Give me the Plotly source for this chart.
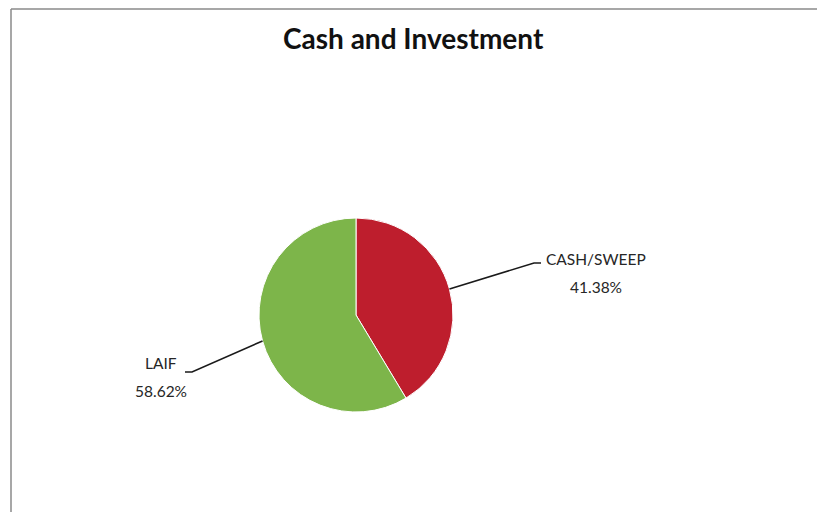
import math
import plotly.graph_objects as go

# ---- data ----
labels = ["CASH/SWEEP", "LAIF"]
values = [41.38, 58.62]
colors = ["#BE1E2D", "#7DB54A"]
title_text = "Cash and Investment"

# ---- layout geometry (pixels, in screenshot coordinates) ----
OFF = 8  # page body margin
W, H = 825 - 2 * OFF, 520 - 2 * OFF  # fit inside the window without scrollbars
cx, cy, r = 356, 315, 97


def px(x):
    return (x - OFF) / W


def py(y):
    return 1 - (y - OFF) / H


fig = go.Figure(go.Pie(
    labels=labels, values=values, sort=False, direction="clockwise", rotation=0,
    marker=dict(colors=colors, line=dict(color="white", width=1)),
    textinfo="none", hoverinfo="label+percent", showlegend=False,
    domain=dict(x=[px(cx - r), px(cx + r)], y=[py(cy + r), py(cy - r)]),
))

# label placement (pixel) for each slice: elbow point, horizontal end, text center
label_pos = {
    "CASH/SWEEP": dict(elbow=(534, 263), end=(541, 263), tx=596, ty1=259, ty2=287),
    "LAIF": dict(elbow=(192, 372), end=(185, 372), tx=161, ty1=363, ty2=391),
}

total = sum(values)
shapes = []
annotations = []
cum = 0.0
for lab, val in zip(labels, values):
    mid = (cum + val / 2) / total * 2 * math.pi  # clockwise from 12 o'clock
    cum += val
    ex = cx + r * math.sin(mid)
    ey = cy - r * math.cos(mid)
    p = label_pos[lab]
    shapes.append(dict(type="path", xref="paper", yref="paper",
                       path=f"M {px(ex)},{py(ey)} L {px(p['elbow'][0])},{py(p['elbow'][1])} L {px(p['end'][0])},{py(p['end'][1])}",
                       line=dict(color="#1a1a1a", width=1.6)))
    pct = val / total * 100
    for txt, ty in ((lab, p["ty1"]), (f"{pct:.2f}%", p["ty2"])):
        annotations.append(dict(text=txt, x=px(p["tx"]), y=py(ty), xref="paper", yref="paper",
                                showarrow=False, xanchor="center", yanchor="middle",
                                font=dict(family="Lato", size=15.5, color="#262626")))

annotations.append(dict(text=f"<b>{title_text}</b>", x=px(414), y=py(38), xref="paper", yref="paper",
                        showarrow=False, xanchor="center", yanchor="middle",
                        font=dict(family="Lato", size=28, color="#111111")))

# chart border: only top and left edges are visible in the reference
border = dict(color="#8a8a8a", width=1.5)
shapes.append(dict(type="line", xref="paper", yref="paper", x0=px(11), y0=py(9), x1=1.0, y1=py(9), line=border))
shapes.append(dict(type="line", xref="paper", yref="paper", x0=px(11), y0=py(9), x1=px(11), y1=0.0, line=border))

fig.update_layout(width=W, height=H, margin=dict(l=0, r=0, t=0, b=0),
                  paper_bgcolor="white", plot_bgcolor="white",
                  shapes=shapes, annotations=annotations)

fig.write_html("out.html")
